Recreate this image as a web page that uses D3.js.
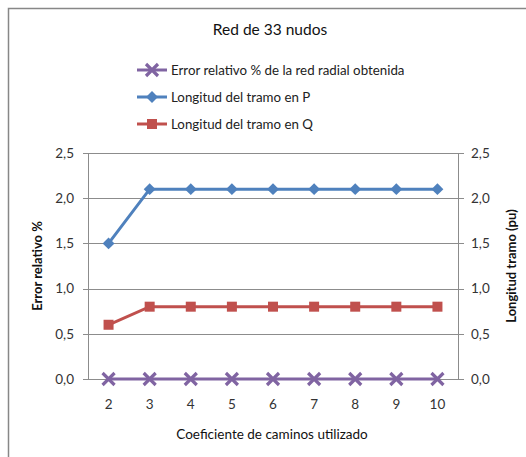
<!DOCTYPE html>
<html><head><meta charset="utf-8">
<script src="https://cdn.jsdelivr.net/npm/d3@7"></script>
<style>body{margin:0;background:#fff}svg{display:block;font-family:Lato,"Open Sans",sans-serif}</style>
</head><body><svg id="c" width="526" height="457"></svg>
<script>
const categories = ["2","3","4","5","6","7","8","9","10"];
const errorRel = [0,0,0,0,0,0,0,0,0];
const longP = [1.5,2.1,2.1,2.1,2.1,2.1,2.1,2.1,2.1];
const longQ = [0.6,0.8,0.8,0.8,0.8,0.8,0.8,0.8,0.8];
const yTicks = [0,0.5,1.0,1.5,2.0,2.5];
const seriesNames = ["Error relativo % de la red radial obtenida","Longitud del tramo en P","Longitud del tramo en Q"];

const svg = d3.select("#c");
const L=88,R=458,T=153,B=379;
svg.append("rect").attr("x",8.5).attr("y",8.5).attr("width",530).attr("height",460).attr("fill","#fff").attr("stroke","#878787").attr("stroke-width",1.5);

const x = d3.scaleBand().domain(categories).range([L,R]);
const y = d3.scaleLinear().domain([0,2.5]).range([B,T]);
const y2 = d3.scaleLinear().domain([0,2.5]).range([B,T]);
const fmt = d=>d3.format(".1f")(d).replace(".",",");

// grid
svg.append("g").selectAll("line").data(yTicks).join("line")
 .attr("x1",L-5).attr("x2",R).attr("y1",d=>Math.round(y(d))+0.5).attr("y2",d=>Math.round(y(d))+0.5)
 .attr("stroke","#8c8c8c").attr("stroke-width",1);
svg.append("line").attr("x1",L+0.5).attr("x2",L+0.5).attr("y1",T).attr("y2",B+0.5).attr("stroke","#8c8c8c");
svg.append("line").attr("x1",R+0.5).attr("x2",R+0.5).attr("y1",T).attr("y2",B+0.5).attr("stroke","#8c8c8c");
svg.append("g").selectAll("line").data(yTicks).join("line")
 .attr("x1",R).attr("x2",R+6).attr("y1",d=>Math.round(y2(d))+0.5).attr("y2",d=>Math.round(y2(d))+0.5).attr("stroke","#8c8c8c");

// axis labels
svg.append("g").selectAll("text").data(yTicks).join("text")
 .attr("x",74).attr("y",d=>y(d)).attr("dy","0.35em").attr("text-anchor","end")
 .attr("font-size",13.5).attr("fill","#333").text(fmt);
svg.append("g").selectAll("text").data(yTicks).join("text")
 .attr("x",471).attr("y",d=>y2(d)).attr("dy","0.35em").attr("text-anchor","start")
 .attr("font-size",13.5).attr("fill","#333").text(fmt);
svg.append("g").selectAll("text").data(categories).join("text")
 .attr("x",d=>x(d)+x.bandwidth()/2).attr("y",404).attr("dy","0.35em").attr("text-anchor","middle")
 .attr("font-size",13.5).attr("fill","#333").text(d=>d);

svg.append("text").attr("x",270).attr("y",30).attr("dy","0.35em").attr("text-anchor","middle").attr("font-size",15.5).attr("fill","#111").text("Red de 33 nudos");
svg.append("text").attr("x",272).attr("y",434).attr("dy","0.35em").attr("text-anchor","middle").attr("font-size",13.5).attr("fill","#111").text("Coeficiente de caminos utilizado");
svg.append("text").attr("transform","translate(37,266) rotate(-90)").attr("dy","0.35em").attr("text-anchor","middle").attr("font-size",13).attr("font-weight","bold").attr("fill","#111").text("Error relativo %");
svg.append("text").attr("transform","translate(511,266) rotate(-90)").attr("dy","0.35em").attr("text-anchor","middle").attr("font-size",13).attr("font-weight","bold").attr("fill","#111").text("Longitud tramo (pu)");

const colors = ["#8064A2","#4F81BD","#C0504D"];
const series = [{v:errorRel,sc:y,m:"x"},{v:longP,sc:y2,m:"d"},{v:longQ,sc:y2,m:"s"}];
const cx = d=>x(d)+x.bandwidth()/2;

function marker(g,m,col,px,py){
  if(m==="x"){
    g.append("path").attr("d",`M${px-6},${py-6}L${px+6},${py+6}M${px-6},${py+6}L${px+6},${py-6}`).attr("stroke",col).attr("stroke-width",3.2).attr("fill","none");
  } else if(m==="d"){
    g.append("path").attr("d",d3.symbol(d3.symbolDiamond2,90)()).attr("transform",`translate(${px},${py})`).attr("fill",col);
  } else {
    g.append("rect").attr("x",px-5).attr("y",py-5).attr("width",10).attr("height",10).attr("fill",col);
  }
}

series.forEach((s,i)=>{
  const g = svg.append("g");
  const line = d3.line().x((d,j)=>cx(categories[j])).y(d=>s.sc(d));
  g.append("path").datum(s.v).attr("d",line).attr("fill","none").attr("stroke",colors[i]).attr("stroke-width",3);
  s.v.forEach((v,j)=>marker(g,s.m,colors[i],cx(categories[j]),s.sc(v)));
});

// legend
const legY=[70,97,124];
seriesNames.forEach((n,i)=>{
  const g=svg.append("g");
  g.append("line").attr("x1",137).attr("x2",167).attr("y1",legY[i]).attr("y2",legY[i]).attr("stroke",colors[i]).attr("stroke-width",3);
  marker(g,series[i].m,colors[i],152,legY[i]);
  g.append("text").attr("x",171).attr("y",legY[i]).attr("dy","0.35em").attr("font-size",13.3).attr("fill","#222").text(n);
});
</script></body></html>
